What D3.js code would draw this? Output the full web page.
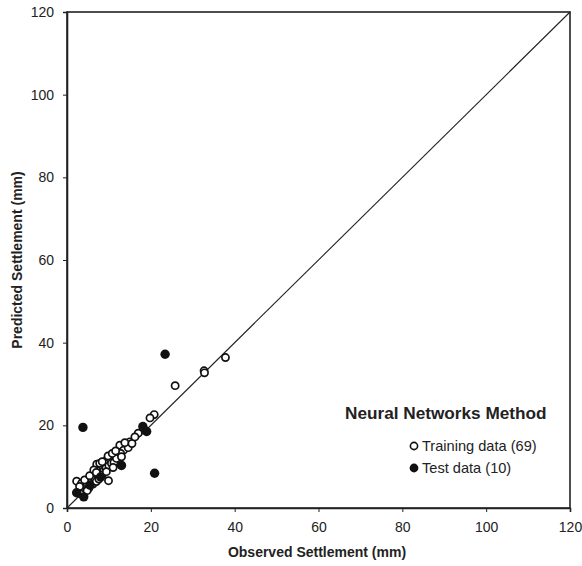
<!DOCTYPE html>
<html><head><meta charset="utf-8">
<script src="https://cdn.jsdelivr.net/npm/d3@7/dist/d3.min.js"></script>
<style>body{margin:0;background:#fff}svg{display:block}text{font-family:Arial,"Liberation Sans",sans-serif}</style>
</head><body><svg id="c" width="582" height="566"></svg>
<script>
const xTicks=[0,20,40,60,80,100,120];
const yTicks=[0,20,40,60,80,100,120];
const trainX=[37.8,32.7,32.8,25.8,20.8,19.8,17.0,15.0,14.2,12.6,9.9,2.3,7.1,3.5,13.5,12.0,11.5,12.2,10.8,10.2,9.6,9.0,8.6,8.0,7.8,7.2,6.8,6.3,5.8,5.5,5.0,4.7,4.4,4.0,3.6,3.2,6.0,6.6,7.4,8.2,8.8,9.3,10.0,10.6,11.2,11.8,12.8,13.0,14.6,5.2,6.2,7.0,7.6,8.4,9.4,4.2,5.4,6.4,8.4,9.8,10.8,11.6,3.0,4.8,13.8,15.5,16.2,11.0,7.0];
const trainY=[36.4,33.2,32.7,29.6,22.6,21.8,18.1,16.0,15.3,15.2,6.6,6.5,10.6,6.0,14.0,13.0,12.5,11.6,12.2,11.4,11.8,10.8,10.2,9.5,10.8,9.0,8.2,7.8,7.2,6.6,6.2,5.6,5.0,4.5,4.0,3.4,6.5,7.0,7.6,8.6,9.0,9.6,10.2,10.8,11.0,12.0,13.2,12.4,14.6,4.8,5.8,6.4,7.0,8.0,8.8,6.8,7.8,9.2,11.2,12.6,13.2,13.8,5.2,4.2,15.8,15.6,17.2,9.8,8.6];
const testX=[3.8,23.4,20.9,18.1,19.0,13.0,2.3,4.0,8.0,5.5];
const testY=[19.5,37.2,8.4,19.7,18.5,10.3,3.7,2.7,7.5,5.5];

const svg=d3.select("#c");
const L=67,R=570,T=12,B=508;
const x=d3.scaleLinear().domain([0,120]).range([L,R]);
const y=d3.scaleLinear().domain([0,120]).range([B,T]);

svg.append("rect").attr("x",L).attr("y",T).attr("width",R-L).attr("height",B-T)
  .attr("fill","none").attr("stroke","#222").attr("stroke-width",1.6);

const xa=svg.append("g").attr("transform",`translate(0,${B})`)
  .call(d3.axisBottom(x).tickValues(xTicks).tickSize(4).tickPadding(10));
const ya=svg.append("g").attr("transform",`translate(${L},0)`)
  .call(d3.axisLeft(y).tickValues(yTicks).tickSize(4).tickPadding(9));
[xa,ya].forEach(g=>{
  g.select(".domain").attr("stroke","#222").attr("stroke-width",1.6);
  g.selectAll(".tick line").attr("stroke","#222");
  g.selectAll("text").attr("font-size",14).attr("fill","#222").attr("font-family","Arial, 'Liberation Sans', sans-serif");
});

svg.append("line").attr("x1",x(0)).attr("y1",y(0)).attr("x2",x(120)).attr("y2",y(120))
  .attr("stroke","#222").attr("stroke-width",1.1);

svg.append("g").selectAll("circle").data(trainX.map((v,i)=>[v,trainY[i]])).join("circle")
  .attr("cx",d=>x(d[0])).attr("cy",d=>y(d[1])).attr("r",3.6)
  .attr("fill","#fff").attr("stroke","#111").attr("stroke-width",1.7);
svg.append("g").selectAll("circle").data(testX.map((v,i)=>[v,testY[i]])).join("circle")
  .attr("cx",d=>x(d[0])).attr("cy",d=>y(d[1])).attr("r",4.7)
  .attr("fill","#111");

svg.append("text").attr("x",317).attr("y",557).attr("text-anchor","middle")
  .attr("font-size",14).attr("font-weight","bold").attr("fill","#222").text("Observed Settlement (mm)");
svg.append("text").attr("transform","translate(22,260) rotate(-90)").attr("text-anchor","middle")
  .attr("font-size",14).attr("font-weight","bold").attr("fill","#222").text("Predicted Settlement (mm)");

svg.append("text").attr("x",345).attr("y",419).attr("font-size",17.2).attr("font-weight","bold")
  .attr("fill","#222").text("Neural Networks Method");
svg.append("circle").attr("cx",414).attr("cy",446).attr("r",3.6).attr("fill","#fff").attr("stroke","#111").attr("stroke-width",1.6);
svg.append("text").attr("x",422).attr("y",451).attr("font-size",14.6).attr("fill","#222").text("Training data (69)");
svg.append("circle").attr("cx",414).attr("cy",468).attr("r",4.4).attr("fill","#111");
svg.append("text").attr("x",422).attr("y",473).attr("font-size",14.6).attr("fill","#222").text("Test data (10)");
</script></body></html>
